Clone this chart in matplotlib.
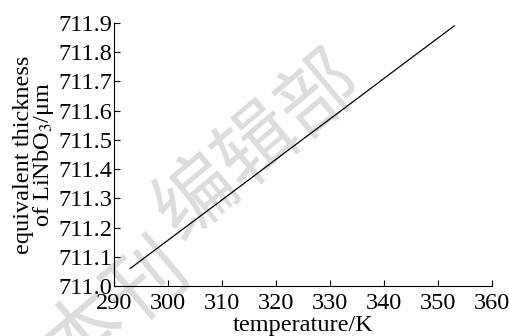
import matplotlib.pyplot as plt

# data
temperature = [293, 303, 313, 323, 333, 343, 353]
thickness = [711.060, 711.198, 711.336, 711.475, 711.613, 711.752, 711.890]

x_ticks = [290, 300, 310, 320, 330, 340, 350, 360]
y_ticks = [711.0, 711.1, 711.2, 711.3, 711.4, 711.5, 711.6, 711.7, 711.8, 711.9]

plt.rcParams['font.family'] = ['Liberation Serif', 'DejaVu Serif']
plt.rcParams['mathtext.fontset'] = 'stix'

fig = plt.figure(figsize=(5.1, 3.36), dpi=100)
ax = fig.add_axes([114 / 510, 1 - 286 / 336, (492 - 114) / 510, (286 - 23) / 336])

# faint journal watermark, behind the line
wm = dict(family=['Noto Sans CJK SC', 'DejaVu Sans'], color='#dcdcdc', rotation=40,
          ha='center', va='center', transform=fig.transFigure, zorder=0, clip_on=False)
ax.text(0.508, 0.566, "编辑部", fontsize=58, **wm)
ax.text(0.23, 0.08, "本刊", fontsize=58, **wm)

ax.plot(temperature, thickness, color='black', linewidth=0.9, zorder=3)

ax.set_xlim(290, 360)
ax.set_ylim(711.0, 711.9)
ax.set_xticks(x_ticks)
ax.set_yticks(y_ticks)
ax.set_yticklabels([f"{v:.1f}" for v in y_ticks])
ax.tick_params(direction='in', length=4, width=0.8, labelsize=17.5, colors='black')
ax.tick_params(axis='y', pad=1)
ax.tick_params(axis='x', pad=5)
ax.spines['top'].set_visible(False)
ax.spines['right'].set_visible(False)
ax.patch.set_alpha(0)

ax.set_xlabel("temperature/K", fontsize=17.5, labelpad=1)
ax.set_ylabel("equivalent thickness\nof LiNbO$_3$/μm", fontsize=17.5, labelpad=2, linespacing=0.85)

fig.savefig("out.png", dpi=100)
